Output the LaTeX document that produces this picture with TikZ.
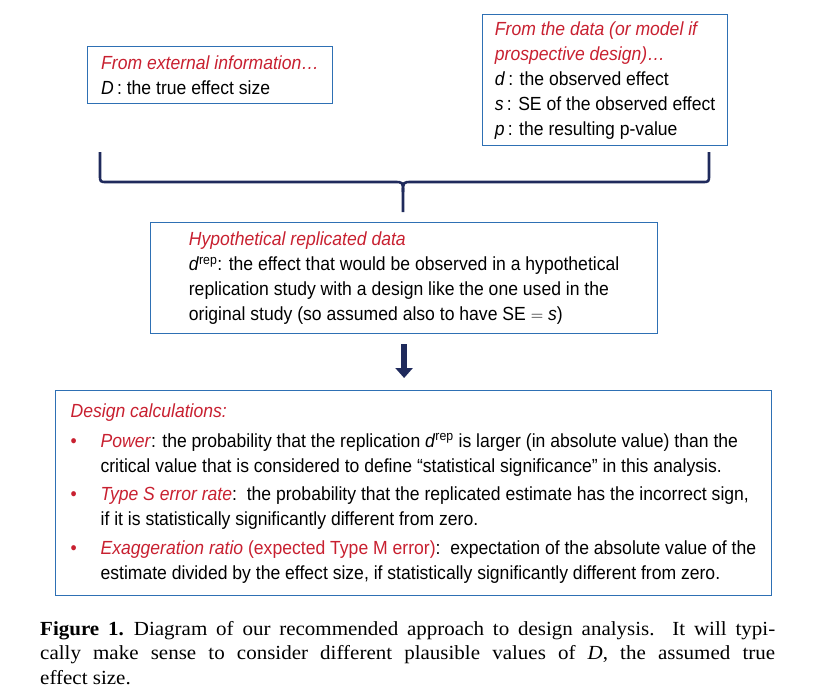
\documentclass[tikz,border=0pt]{standalone}
\usepackage{fontspec}
\setmainfont[FakeStretch=0.925]{Liberation Sans}
\newfontfamily\capfont[FakeStretch=1.05]{Liberation Serif}
\usetikzlibrary{arrows.meta}
\definecolor{boxblue}{RGB}{46,112,180}
\definecolor{headred}{RGB}{200,32,48}
\definecolor{navy}{RGB}{31,42,92}
\newcommand{\hd}[1]{\textcolor{headred}{\textit{#1}}}
\newcommand{\bul}{\makebox[30pt][l]{\textcolor{headred}{\textbullet}}}
\newcommand{\normsp}{\spaceskip=0pt\xspaceskip=0pt\relax}
\begin{document}
\begin{tikzpicture}[x=1pt,y=-1pt,
    infobox/.style={draw=boxblue,line width=1.2pt,align=left,anchor=north west,
      font=\fontsize{19}{25}\selectfont,execute at begin node=\normsp},
    brace/.style={draw=navy,line width=2.6pt,line join=round},
    downarrow/.style={draw=navy,line width=6.5pt,-{Triangle[width=17pt,length=10pt]}}]
    \useasboundingbox (0,0) rectangle (815,697);

    \node[infobox,minimum width=245pt,minimum height=57pt] (ext) at (87,46)
        {\hd{From external information\ldots}\\
         \textit{D}\,: the true effect size};
    \node[infobox,minimum width=245pt,minimum height=131pt] (dat) at (482,14)
        {\hd{From the data (or model if}\\
         \hd{prospective design)\ldots}\\
         \textit{d}\,: the observed effect\\
         \textit{s}\,: SE of the observed effect\\
         \textit{p}\,: the resulting p-value};
    \node[infobox,minimum width=507pt,minimum height=111pt] (hyp) at (150,222)
        {\hd{Hypothetical replicated data}\\
         \textit{d}\textsuperscript{rep}: the effect that would be observed in a hypothetical\\
         replication study with a design like the one used in the\\
         original study (so assumed also to have SE $=$ \textit{s})};
    \node[infobox,text width=686pt,inner xsep=15pt,minimum height=205pt] (calc) at (55,390)
        {\hd{Design calculations:}\\[5pt]
         \bul\hd{Power}: the probability that the replication \textit{d}\textsuperscript{rep} is larger (in absolute value) than the\\
         \hspace*{30pt}critical value that is considered to define “statistical significance” in this analysis.\\[3pt]
         \bul\hd{Type S error rate}:\ \ the probability that the replicated estimate has the incorrect sign,\\
         \hspace*{30pt}if it is statistically significantly different from zero.\\[4pt]
         \bul\hd{Exaggeration ratio} \textcolor{headred}{(expected Type M error)}:\ \ expectation of the absolute value of the\\
         \hspace*{30pt}estimate divided by the effect size, if statistically significantly different from zero.};

    % brace joining the two sources
    \draw[brace] (100,152) -- (100,175) .. controls (100,182) .. (107,182) -- (394,182)
        .. controls (403,182) .. (403,192) -- (403,212);
    \draw[brace] (709,152) -- (709,175) .. controls (709,182) .. (702,182) -- (412,182)
        .. controls (403,182) .. (403,192);

    \draw[downarrow,shorten <=10pt,shorten >=12pt] (hyp.south) -- (hyp.south |- calc.north);

    \node[anchor=north west,inner sep=0pt,text width=735pt,align=left,execute at begin node=\normsp,
        font=\capfont\fontsize{20}{24.5}\selectfont] (cap) at (40,621)
        {\makebox[735pt][s]{\textbf{Figure 1.}\enspace Diagram of our recommended approach to design analysis. It will typi-}\\
         \makebox[735pt][s]{cally make sense to consider different plausible values of \textit{D}, the assumed true}\\
         effect size.};
\end{tikzpicture}
\end{document}
